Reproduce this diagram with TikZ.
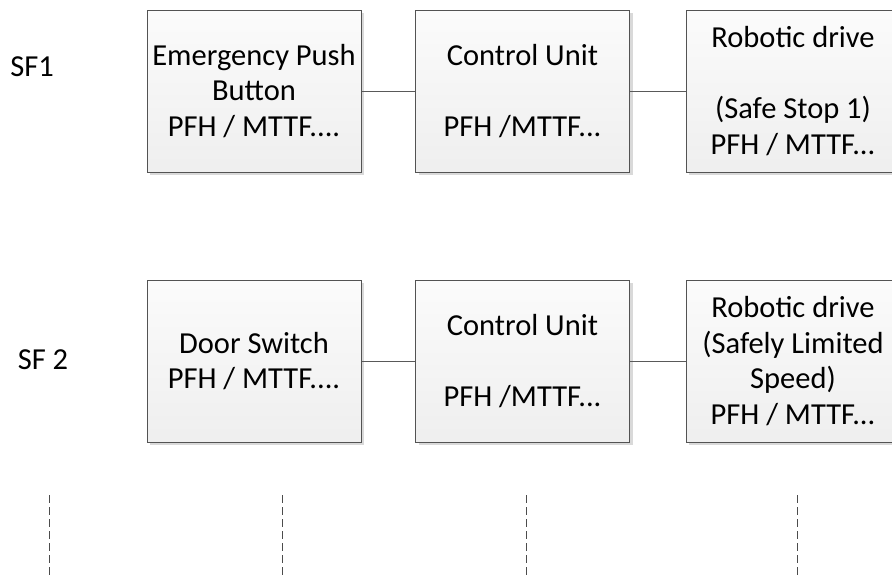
\documentclass[tikz,border=0pt]{standalone}
\usepackage{fontspec}
\setmainfont{Carlito}
\usetikzlibrary{shadows}

\tikzset{
  block/.style={draw=gray!65!black, line width=1pt, top color=gray!3, bottom color=gray!13,
    minimum width=214pt, minimum height=162pt, inner sep=0pt, align=center,
    drop shadow={shadow xshift=3pt, shadow yshift=-3pt, fill=gray!30, opacity=1}},
  sflabel/.style={inner sep=0pt},
  link/.style={draw=gray!70!black, line width=0.8pt},
  guide/.style={draw=gray!60!black, line width=0.9pt, dash pattern=on 8pt off 4pt}
}

\begin{document}
\begin{tikzpicture}[x=1pt, y=-1pt, font=\fontsize{30.5}{35.5}\selectfont]
\useasboundingbox (0,0) rectangle (892,576);
\clip (0,0) rectangle (892,576);

% safety function 1
\node[sflabel] (sf1) at (32,67) {SF1};
\node[block] (button) at (254,91) {Emergency Push\\ Button\\ PFH / MTTF....};
\node[block] (ctrlA) at (522.5,91) {Control Unit\\ \strut\\ PFH /MTTF...};
\node[block] (driveA) at (793,91) {Robotic drive\\ \strut\\ (Safe Stop 1)\\ PFH / MTTF...};

% safety function 2
\node[sflabel] (sf2) at (43,360) {SF 2};
\node[block] (door) at (254,361) {Door Switch\\ PFH / MTTF....};
\node[block] (ctrlB) at (522.5,361) {Control Unit\\ \strut\\ PFH /MTTF...};
\node[block] (driveB) at (793,361) {Robotic drive\\ (Safely Limited\\ Speed)\\ PFH / MTTF...};

\draw[link] (button) -- (ctrlA);
\draw[link] (ctrlA) -- (driveA);
\draw[link] (door) -- (ctrlB);
\draw[link] (ctrlB) -- (driveB);

% column guides
\coordinate (g1) at (49,495);
\coordinate (g2) at (282,495);
\coordinate (g3) at (526,495);
\coordinate (g4) at (797,495);
\draw[guide] (g1) -- (g1 |- 0,576);
\draw[guide] (g2) -- (g2 |- 0,576);
\draw[guide] (g3) -- (g3 |- 0,576);
\draw[guide] (g4) -- (g4 |- 0,576);
\end{tikzpicture}
\end{document}
